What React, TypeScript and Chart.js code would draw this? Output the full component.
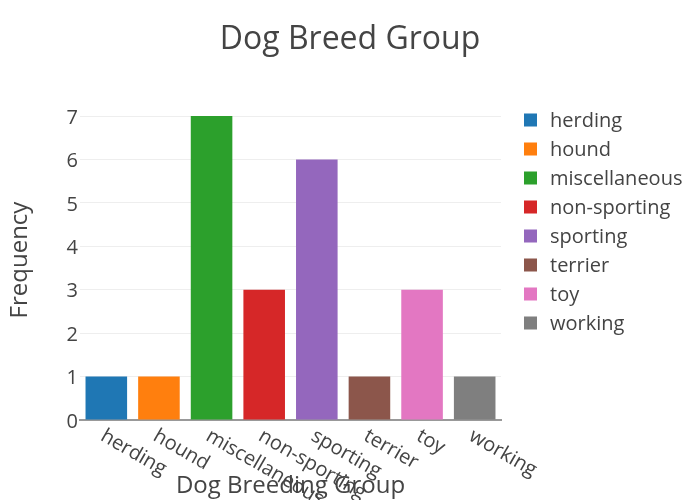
import React, { useEffect, useRef } from "react";
import { Chart, registerables } from "chart.js";

Chart.register(...registerables);

const categories = ["herding", "hound", "miscellaneous", "non-sporting", "sporting", "terrier", "toy", "working"];
const frequencies = [1, 1, 7, 3, 6, 1, 3, 1];
const colors = ["#1f77b4", "#ff7f0e", "#2ca02c", "#d62728", "#9467bd", "#8c564b", "#e377c2", "#7f7f7f"];
const yTicks = [0, 1, 2, 3, 4, 5, 6, 7];
const titleText = "Dog Breed Group";
const xTitle = "Dog Breeding Group";
const yTitle = "Frequency";

const FONT = '"Open Sans", "Noto Sans", sans-serif';
const TEXT = "#444";

const overlay = {
  id: "overlay",
  afterDraw(chart: any) {
    const ctx = chart.ctx as CanvasRenderingContext2D;
    const xs = chart.scales.x;
    const ys = chart.scales.y;
    const area = chart.chartArea;
    ctx.save();
    ctx.fillStyle = TEXT;
    // title
    ctx.font = `32px ${FONT}`;
    ctx.textAlign = "center";
    ctx.textBaseline = "middle";
    ctx.fillText(titleText, 350, 40);
    // y tick labels
    ctx.font = `20px ${FONT}`;
    ctx.textAlign = "right";
    ctx.textBaseline = "middle";
    yTicks.forEach((v) => {
      ctx.fillText(String(v), 78, ys.getPixelForValue(v) + 2);
    });
    // x tick labels rotated 30deg
    ctx.font = `20px ${FONT}`;
    categories.forEach((c, i) => {
      const px = xs.getPixelForValue(i);
      ctx.save();
      ctx.translate(px + 1, 426);
      ctx.rotate(Math.PI / 6);
      ctx.textAlign = "left";
      ctx.textBaseline = "top";
      ctx.fillText(c, 0, 0);
      ctx.restore();
    });
    // axis titles
    ctx.font = `24px ${FONT}`;
    ctx.textAlign = "center";
    ctx.textBaseline = "alphabetic";
    ctx.fillText(xTitle, (area.left + area.right) / 2, 493);
    ctx.save();
    ctx.translate(27, (area.top + area.bottom) / 2);
    ctx.rotate(-Math.PI / 2);
    ctx.fillText(yTitle, 0, 0);
    ctx.restore();
    // legend
    ctx.font = `20px ${FONT}`;
    ctx.textAlign = "left";
    ctx.textBaseline = "middle";
    categories.forEach((c, i) => {
      const cy = 120 + i * 29;
      ctx.fillStyle = colors[i];
      ctx.fillRect(524, cy - 6.5, 13, 13);
      ctx.fillStyle = TEXT;
      ctx.fillText(c, 550, cy + 1);
    });
    ctx.restore();
  },
};

export default function App() {
  const ref = useRef<HTMLCanvasElement>(null);
  useEffect(() => {
    const chart = new Chart(ref.current!, {
      type: "bar",
      data: {
        labels: categories,
        datasets: [
          {
            label: "Frequency",
            data: frequencies,
            backgroundColor: colors,
            borderWidth: 0,
            barPercentage: 0.79,
            categoryPercentage: 1,
          },
        ],
      },
      options: {
        animation: false,
        responsive: false,
        maintainAspectRatio: false,
        layout: { padding: { left: 0, right: 199, top: 100, bottom: 0 } },
        plugins: { legend: { display: false }, title: { display: false }, tooltip: { enabled: false } },
        scales: {
          x: {
            grid: { display: false, drawTicks: false },
            border: { display: true, color: "#999", width: 2 },
            ticks: { display: false },
            afterFit(scale: any) {
              scale.height = 80;
            },
          },
          y: {
            min: 0,
            max: 7 / 0.95,
            grid: { color: "#eee", lineWidth: 1, drawTicks: false },
            border: { display: false },
            afterBuildTicks(scale: any) {
              scale.ticks = yTicks.map((v) => ({ value: v }));
            },
            ticks: { display: false },
            afterFit(scale: any) {
              scale.width = 80;
            },
          },
        },
      },
      plugins: [overlay],
    });
    return () => chart.destroy();
  }, []);
  return (
    <div style={{ position: "fixed", left: 0, top: 0, width: 700, height: 500, background: "#fff" }}>
      <canvas ref={ref} width={700} height={500} style={{ width: 700, height: 500 }} />
    </div>
  );
}
